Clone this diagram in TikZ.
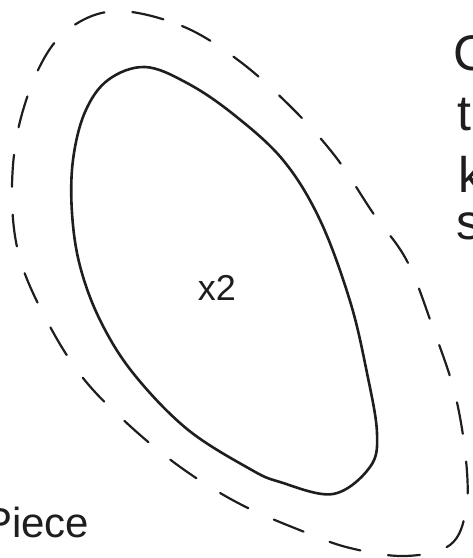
\documentclass[tikz,border=0pt]{standalone}
\usepackage{fontspec}
\setmainfont{Liberation Sans}
\usepackage{tikz}
\definecolor{ink}{HTML}{1E1E1E}

\begin{document}
\begin{tikzpicture}[
  x=1pt, y=-1pt,
  outline/.style={draw=ink, line width=2.6pt, line cap=round, line join=round},
  allowance/.style={draw=ink, line width=2.2pt, dash pattern=on 32pt off 28pt, line cap=round},
  lbl/.style={text=ink, inner sep=0pt, anchor=base west},
  notefont/.style={font=\fontsize{50}{60}\selectfont},
]
\useasboundingbox (0,0) rectangle (473,558);
\clip (0,0) rectangle (473,558);

% ---------------- outer cutting line (dashed) ----------------
\draw[allowance] plot[smooth cycle, tension=0.6] coordinates {
  (117,11) (182,26) (238,60) (290,106) (335,156) (373,213) (407,261)
  (433,328) (455,394) (466,460) (466,510) (450,545) (405,556) (350,548)
  (302,531) (240,504) (183,469) (130,426) (83,378) (47,321) (20,259)
  (12,197) (18,130) (40,66) (70,28)};

% ---------------- piece outline (solid) ----------------
\draw[outline] plot[smooth cycle, tension=0.6] coordinates {
  (145,67) (187,83) (233,114) (283,160) (320,220) (350,301) (367,373)
  (377,433) (370,467) (333,494) (280,482) (250,469) (187,429) (133,373)
  (100,320) (80,266) (72,213) (73,160) (85,112) (108,80)};

% ---------------- labels ----------------
\node[lbl, font=\fontsize{36}{40}\selectfont, anchor=base] (count) at (217,300) {x2};
\node[lbl, font=\fontsize{42}{48}\selectfont] (piece) at (-16,537) {Piece};

% cut-off note at the right edge
\node[lbl, notefont] (noteC) at (453,70) {C};
\node[lbl, notefont] (noteT) at (457,130) {t};
\node[lbl, notefont] (noteK) at (458,192) {k};
\node[lbl, notefont] (noteS) at (456,239) {s};

\end{tikzpicture}
\end{document}
